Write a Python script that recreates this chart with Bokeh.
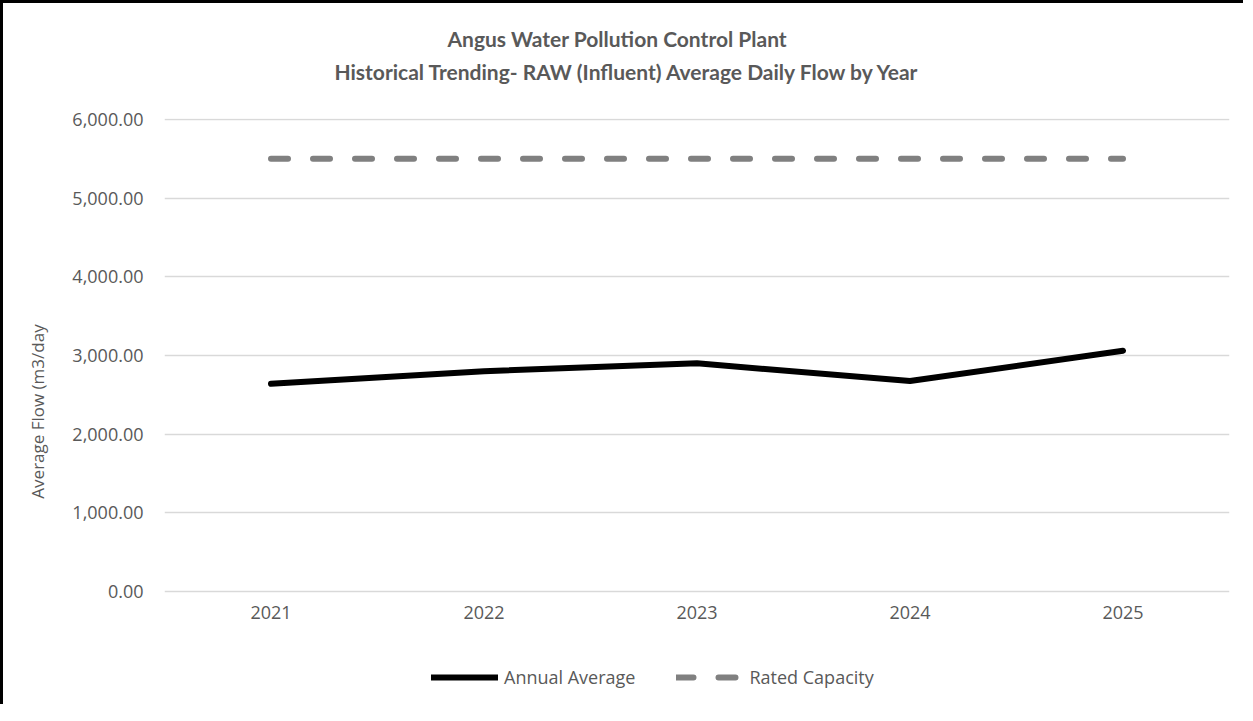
from bokeh.plotting import figure
from bokeh.models import (ColumnDataSource, NumeralTickFormatter, Legend, LegendItem,
                          Title, Range1d)
from bokeh.embed import file_html
from bokeh.resources import INLINE

years = ["2021", "2022", "2023", "2024", "2025"]
annual_average = [2640, 2800, 2900, 2675, 3060]
rated_capacity = [5500, 5500, 5500, 5500, 5500]
y_ticks = [0, 1000, 2000, 3000, 4000, 5000, 6000]

title_line1 = "Angus Water Pollution Control Plant"
title_line2 = "Historical Trending- RAW (Influent) Average Daily Flow by Year"
y_label = "Average Flow (m3/day"

src = ColumnDataSource(dict(year=years, avg=annual_average, cap=rated_capacity))

GRAY_TXT = "#595959"
FONT = "Open Sans"
TFONT = "Lato"

# the frame extends below zero to leave room for the tick labels and legend
p = figure(x_range=years, y_range=Range1d(-1436, 6012),
           frame_width=1065, frame_height=586,
           output_backend="svg", toolbar_location=None,
           min_border_left=161, min_border_right=14, min_border_top=115,
           min_border_bottom=0)
p.outline_line_color = None
p.styles = {"border-left": "3px solid black", "border-top": "3px solid black"}

r_cap = p.line("year", "cap", source=src, line_color="#808080", line_width=6,
               line_dash="17 25", line_cap="round")
r_avg = p.line("year", "avg", source=src, line_color="black", line_width=6,
               line_cap="round", line_join="round")

# spacer between frame and subtitle
p.add_layout(Title(text=" ", text_font_size="1px", standoff=29), "above")
p.add_layout(Title(text=title_line2, align="left", offset=170, text_font=TFONT,
                   text_font_style="bold", text_font_size="21px",
                   text_color=GRAY_TXT, standoff=6), "above")
p.add_layout(Title(text=title_line1, align="left", offset=283, text_font=TFONT,
                   text_font_style="bold", text_font_size="21px",
                   text_color=GRAY_TXT, standoff=6), "above")

p.yaxis.formatter = NumeralTickFormatter(format="0,0.00")
p.yaxis.ticker = y_ticks
p.xaxis.fixed_location = 0
for ax in (p.xaxis[0], p.yaxis[0]):
    ax.axis_line_color = None
    ax.major_tick_line_color = None
    ax.minor_tick_line_color = None
    ax.major_tick_in = 0
    ax.major_tick_out = 0
    ax.major_label_text_font = FONT
    ax.major_label_text_font_size = "18px"
    ax.major_label_text_color = GRAY_TXT
p.yaxis.major_label_standoff = 21
p.xaxis.major_label_standoff = 14
p.yaxis.axis_label = y_label
p.yaxis.axis_label_text_font = FONT
p.yaxis.axis_label_text_font_style = "normal"
p.yaxis.axis_label_text_font_size = "17px"
p.yaxis.axis_label_text_color = GRAY_TXT
p.yaxis.axis_label_text_align = "left"
p.yaxis.axis_label_standoff = 20

p.xgrid.grid_line_color = None
p.ygrid.grid_line_color = "#d9d9d9"
p.ygrid.grid_line_width = 1.5

legend = Legend(items=[LegendItem(label="Annual Average", renderers=[r_avg]),
                       LegendItem(label="Rated Capacity", renderers=[r_cap])],
                orientation="horizontal", location=(267, 15),
                label_text_font=FONT, label_text_font_size="18px",
                label_text_color=GRAY_TXT, glyph_width=67, glyph_height=20,
                label_standoff=6, spacing=41,
                border_line_color=None, background_fill_alpha=0,
                margin=0, padding=4)
p.add_layout(legend, "center")

open("out.html", "w").write(file_html(p, INLINE))
